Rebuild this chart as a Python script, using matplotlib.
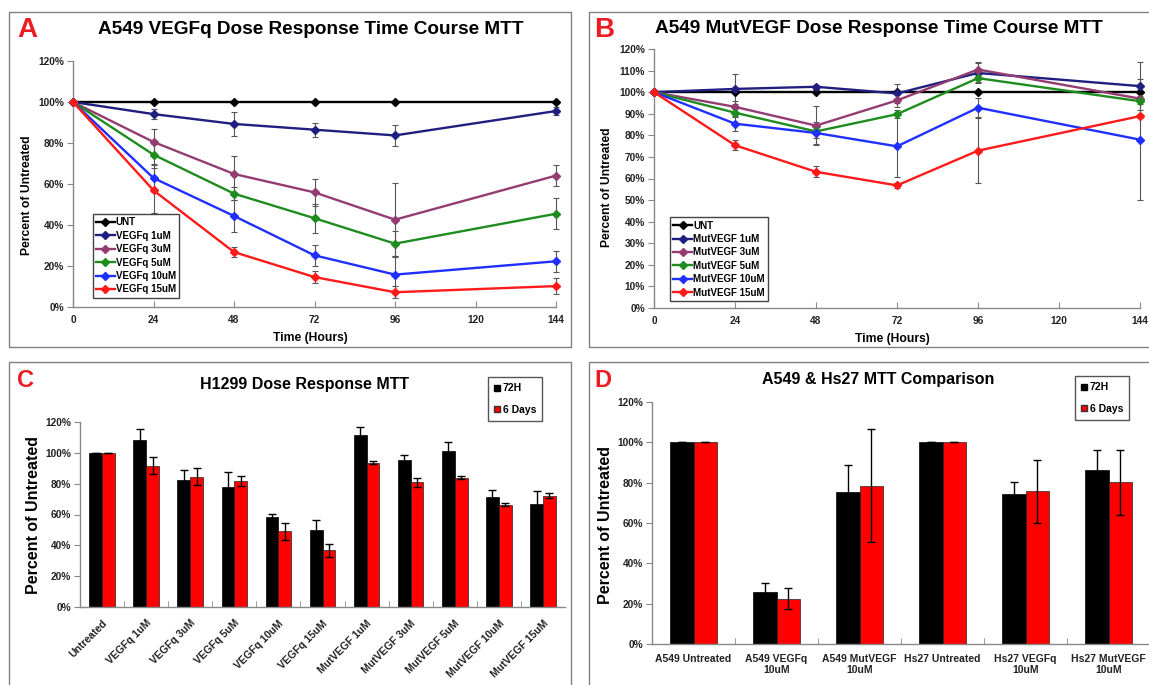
import numpy as np
import matplotlib
matplotlib.use("Agg")
import matplotlib.pyplot as plt
from matplotlib.lines import Line2D
from matplotlib.patches import Rectangle

plt.rcParams["font.family"] = ["Liberation Sans", "DejaVu Sans"]
plt.rcParams["font.weight"] = "bold"

# ---- data ----
hours = [0, 24, 48, 72, 96, 144]

# panel A: VEGFq time course
a_labels = ["UNT", "VEGFq 1uM", "VEGFq 3uM", "VEGFq 5uM", "VEGFq 10uM", "VEGFq 15uM"]
a_unt = [100, 100, 100, 100, 100, 100]
a_1 = [100, 94.1, 89.3, 86.5, 83.7, 95.6]
a_3 = [100, 80.5, 64.9, 55.9, 42.6, 64.1]
a_5 = [100, 74.3, 55.3, 43.3, 30.9, 45.5]
a_10 = [100, 62.9, 44.4, 25.2, 15.8, 22.3]
a_15 = [100, 56.9, 26.8, 14.6, 7.2, 10.2]
a_unt_err = [0, 0, 0, 0, 0, 0]
a_1_err = [0, 2.5, 5.8, 3.5, 5.0, 2.0]
a_3_err = [0, 6.5, 9.0, 6.5, 18.0, 5.0]
a_5_err = [0, 5.0, 3.0, 7.0, 6.0, 7.5]
a_10_err = [0, 7.0, 7.7, 5.0, 9.0, 5.0]
a_15_err = [0, 11.0, 2.5, 3.0, 3.0, 4.0]

# panel B: MutVEGF time course
b_labels = ["UNT", "MutVEGF 1uM", "MutVEGF 3uM", "MutVEGF 5uM", "MutVEGF 10uM", "MutVEGF 15uM"]
b_unt = [100, 100, 100, 100, 100, 100]
b_1 = [100, 101.5, 102.5, 99.4, 108.9, 102.8]
b_3 = [100, 93.2, 84.5, 96.2, 110.5, 97.0]
b_5 = [100, 90.5, 81.8, 89.8, 106.5, 95.8]
b_10 = [100, 85.4, 81.1, 74.9, 92.8, 78.0]
b_15 = [100, 75.4, 63.1, 56.8, 72.9, 88.9]
b_unt_err = [0, 0, 0, 0, 0, 0]
b_1_err = [0, 6.8, 1.0, 4.3, 4.5, 11.0]
b_3_err = [0, 2.5, 9.0, 3.0, 3.4, 1.0]
b_5_err = [0, 2.0, 3.0, 2.0, 2.0, 1.5]
b_10_err = [0, 3.4, 5.0, 14.3, 4.4, 28.0]
b_15_err = [0, 2.4, 2.6, 1.0, 15.0, 1.0]

line_colors = ["#000000", "#1f1f80", "#943c72", "#1e8c1e", "#1f2fff", "#ff1a1a"]

# panel C: H1299 bars
c_cats = ["Untreated", "VEGFq 1uM", "VEGFq 3uM", "VEGFq 5uM", "VEGFq 10uM", "VEGFq 15uM",
          "MutVEGF 1uM", "MutVEGF 3uM", "MutVEGF 5uM", "MutVEGF 10uM", "MutVEGF 15uM"]
c_72h = [100, 108.5, 82.6, 77.8, 58.5, 50.2, 111.5, 95.5, 101.5, 71.3, 67.0]
c_72h_err = [0, 7.0, 6.5, 10.0, 2.0, 6.0, 5.0, 3.3, 5.5, 4.3, 8.0]
c_6d = [100, 91.7, 84.6, 81.7, 49.0, 36.7, 93.5, 80.9, 84.0, 66.3, 72.3]
c_6d_err = [0, 5.5, 5.5, 3.5, 5.5, 4.0, 1.0, 3.0, 1.0, 1.0, 1.5]

# panel D: A549 vs Hs27 bars
d_cats = ["A549 Untreated", "A549 VEGFq\n10uM", "A549 MutVEGF\n10uM",
          "Hs27 Untreated", "Hs27 VEGFq\n10uM", "Hs27 MutVEGF\n10uM"]
d_72h = [100, 25.8, 75.3, 100, 74.5, 86.3]
d_72h_err = [0, 4.3, 13.6, 0, 5.6, 10.0]
d_6d = [100, 22.5, 78.5, 100, 75.7, 80.1]
d_6d_err = [0, 5.3, 28.0, 0, 15.7, 16.0]

W, H = 1149, 685
fig = plt.figure(figsize=(W / 100, H / 100), dpi=100)


def box(l, t, r, b):
    return [l / W, 1 - b / H, (r - l) / W, (b - t) / H]


def fx(x):
    return x / W


def fy(y):
    return 1 - y / H


# panel frames
for l, t, r, b in [(9, 12, 571, 347), (589, 12, 1170, 347),
                   (9, 362, 571, 700), (589, 362, 1170, 700)]:
    fig.patches.append(Rectangle((fx(l), fy(b)), (r - l) / W, (b - t) / H,
                                 transform=fig.transFigure, fill=False,
                                 edgecolor="#808080", lw=1))

letter_color = "#ec1c24"
fig.text(fx(17), fy(37), "A", fontsize=20, color=letter_color, va="baseline")
fig.text(fx(594), fy(37), "B", fontsize=20, color=letter_color, va="baseline")
fig.text(fx(17), fy(387), "C", fontsize=17, color=letter_color, va="baseline")
fig.text(fx(594), fy(387), "D", fontsize=17, color=letter_color, va="baseline")


def style_axes(ax):
    for s in ["top", "right"]:
        ax.spines[s].set_visible(False)
    for s in ["left", "bottom"]:
        ax.spines[s].set_color("#888888")
        ax.spines[s].set_linewidth(1)
    ax.tick_params(axis="y", direction="out", length=4, color="#888888",
                   labelsize=7.3, labelcolor="#222222", pad=2.5)
    ax.tick_params(axis="x", which="both", direction="in", length=4, color="#888888",
                   labelsize=7.3, labelcolor="#222222")


def pct(ax, ticks):
    ax.set_yticks(ticks)
    ax.set_yticklabels(["%d%%" % t for t in ticks])


def time_course(ax, series, errs, labels, yticks, leg_anchor):
    handles = []
    for y, e, lab, c in zip(series, errs, labels, line_colors):
        y = np.array(y, dtype=float)
        e = np.array(e, dtype=float)
        m = e > 0
        if m.any():
            eb = ax.errorbar(np.array(hours)[m], y[m], yerr=e[m], fmt="none",
                             ecolor="#555555", elinewidth=0.8, capsize=2, capthick=0.8,
                             zorder=3)
            for art in eb.lines[1] + eb.lines[2]:
                art.set_clip_on(False)
        h, = ax.plot(hours, y, color=c, lw=1.7, marker="D", ms=4.5, clip_on=False,
                     zorder=4, label=lab)
        handles.append(h)
    ax.set_xlim(0, 144)
    ax.set_ylim(0, yticks[-1])
    ax.set_xticks(hours[:5] + [120, 144])
    pct(ax, yticks)
    style_axes(ax)
    ax.tick_params(axis="x", pad=6)
    leg = ax.legend(handles, labels, loc="lower left", bbox_to_anchor=leg_anchor,
                    borderaxespad=0, fontsize=7, handlelength=1.9, handletextpad=0.1,
                    labelspacing=0.35, borderpad=0.35, fancybox=False,
                    edgecolor="#444444", framealpha=1)
    leg.get_frame().set_linewidth(1)


# ---- panel A ----
axA = fig.add_axes(box(73, 61, 556, 307))
time_course(axA, [a_unt, a_1, a_3, a_5, a_10, a_15],
            [a_unt_err, a_1_err, a_3_err, a_5_err, a_10_err, a_15_err],
            a_labels, list(range(0, 121, 20)), (0.041, 0.037))
fig.text(fx(311), fy(34), "A549 VEGFq Dose Response Time Course MTT", fontsize=13.7,
         ha="center", va="baseline")
fig.text(fx(27), fy(195), "Percent of Untreated", fontsize=8.7, rotation=90,
         ha="center", va="center")
fig.text(fx(310), fy(338), "Time (Hours)", fontsize=8.7, ha="center", va="center")

# ---- panel B ----
axB = fig.add_axes(box(654, 49, 1140, 308))
time_course(axB, [b_unt, b_1, b_3, b_5, b_10, b_15],
            [b_unt_err, b_1_err, b_3_err, b_5_err, b_10_err, b_15_err],
            b_labels, list(range(0, 121, 10)), (0.033, 0.027))
fig.text(fx(879), fy(33), "A549 MutVEGF Dose Response Time Course MTT", fontsize=13.7,
         ha="center", va="baseline")
fig.text(fx(607), fy(187), "Percent of Untreated", fontsize=8.7, rotation=90,
         ha="center", va="center")
fig.text(fx(892), fy(339), "Time (Hours)", fontsize=8.7, ha="center", va="center")


def bar_panel(ax, cats, v72, e72, v6, e6, w, rot):
    x = np.arange(len(cats))
    ekw = dict(ecolor="black", elinewidth=1, capsize=3, capthick=1)
    ax.bar(x - w / 2, v72, w, color="black", edgecolor="black", lw=0.5,
           yerr=e72, error_kw=ekw)
    ax.bar(x + w / 2, v6, w, color="#ff0000", edgecolor="#222222", lw=0.5,
           yerr=e6, error_kw=ekw)
    ax.set_xlim(-0.5, len(cats) - 0.5)
    ax.set_ylim(0, 120)
    pct(ax, list(range(0, 121, 20)))
    style_axes(ax)
    ax.set_xticks(x)
    ax.set_xticks(x[:-1] + 0.5, minor=True)
    ax.tick_params(axis="x", which="major", length=0, labelsize=7.5)
    if rot:
        ax.set_xticklabels(cats, rotation=45, ha="right", rotation_mode="anchor")
        ax.tick_params(axis="x", which="major", pad=8)
    else:
        ax.set_xticklabels(cats, linespacing=1.1)
        ax.tick_params(axis="x", which="major", pad=7)


def bar_legend(l, t):
    hs = [Line2D([], [], ls="none", marker="s", ms=5, color="black"),
          Line2D([], [], ls="none", marker="s", ms=5, markerfacecolor="#ff0000",
                 markeredgecolor="#333333")]
    leg = fig.legend(hs, ["72H", "6 Days"], loc="upper left",
                     bbox_to_anchor=(fx(l), fy(t)), borderaxespad=0, fontsize=7.5,
                     handlelength=0.6, handletextpad=0.2, labelspacing=1.1,
                     borderpad=0.6, fancybox=False, edgecolor="#555555", framealpha=1)
    leg.get_frame().set_linewidth(1)


# ---- panel C ----
axC = fig.add_axes(box(80, 422, 565, 607))
bar_panel(axC, c_cats, c_72h, c_72h_err, c_6d, c_6d_err, 0.29, True)
fig.text(fx(304), fy(389), "H1299 Dose Response MTT", fontsize=11.5,
         ha="center", va="baseline")
fig.text(fx(34), fy(515), "Percent of Untreated", fontsize=11.5, rotation=90,
         ha="center", va="center")
bar_legend(488, 377)

# ---- panel D ----
axD = fig.add_axes(box(652, 402, 1150, 644))
bar_panel(axD, d_cats, d_72h, d_72h_err, d_6d, d_6d_err, 0.28, False)
fig.text(fx(878), fy(384), "A549 & Hs27 MTT Comparison", fontsize=11.5,
         ha="center", va="baseline")
fig.text(fx(606), fy(525), "Percent of Untreated", fontsize=11.5, rotation=90,
         ha="center", va="center")
bar_legend(1075, 376)

fig.savefig("out.png", dpi=100)
